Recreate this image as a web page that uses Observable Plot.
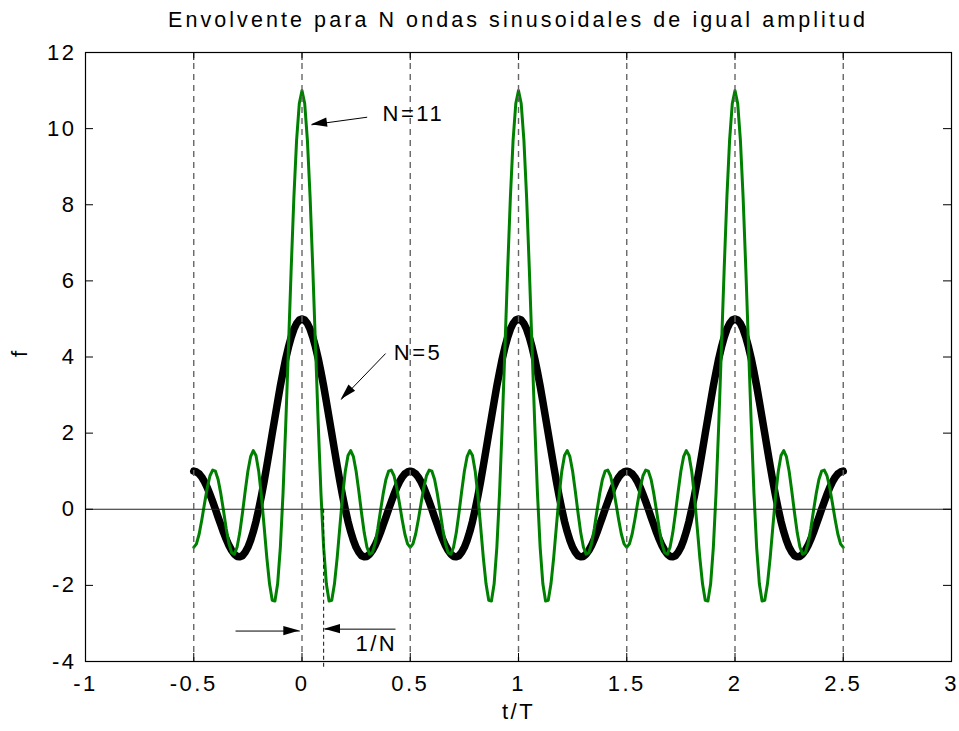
<!DOCTYPE html>
<html><head><meta charset="utf-8">
<script src="https://cdn.jsdelivr.net/npm/d3@7"></script>
<script src="https://cdn.jsdelivr.net/npm/@observablehq/plot@0.6"></script>
<style>
body{margin:0;background:#fff;}
#chart{position:relative;width:959px;height:731px;}
</style></head><body><div id="chart"></div>
<script>
// sampling grid of the curves (t/T)
const tStart = -0.5, tStep = 0.0125;
// N = 5 envelope values (t = -0.5 ... 2.5)
const f5 = [
 1,0.98,0.93,0.84,0.72,0.57,0.39,0.2,0,-0.21,-0.41,-0.61,-0.79,-0.95,-1.08,-1.18,-1.24,-1.25,-1.22,-1.13,-1,-0.82,-0.59,-0.32,0,0.35,0.73,1.14,1.56,1.99,2.41,2.83,3.24,3.61,3.96,4.26,4.52,4.73,4.88,4.97,5,
 4.97,4.88,4.73,4.52,4.26,3.96,3.61,3.24,2.83,2.41,1.99,1.56,1.14,0.73,0.35,0,-0.32,-0.59,-0.82,-1,-1.13,-1.22,-1.25,-1.24,-1.18,-1.08,-0.95,-0.79,-0.61,-0.41,-0.21,0,0.2,0.39,0.57,0.72,0.84,0.93,0.98,1,
 0.98,0.93,0.84,0.72,0.57,0.39,0.2,0,-0.21,-0.41,-0.61,-0.79,-0.95,-1.08,-1.18,-1.24,-1.25,-1.22,-1.13,-1,-0.82,-0.59,-0.32,0,0.35,0.73,1.14,1.56,1.99,2.41,2.83,3.24,3.61,3.96,4.26,4.52,4.73,4.88,4.97,5,
 4.97,4.88,4.73,4.52,4.26,3.96,3.61,3.24,2.83,2.41,1.99,1.56,1.14,0.73,0.35,0,-0.32,-0.59,-0.82,-1,-1.13,-1.22,-1.25,-1.24,-1.18,-1.08,-0.95,-0.79,-0.61,-0.41,-0.21,0,0.2,0.39,0.57,0.72,0.84,0.93,0.98,1,
 0.98,0.93,0.84,0.72,0.57,0.39,0.2,0,-0.21,-0.41,-0.61,-0.79,-0.95,-1.08,-1.18,-1.24,-1.25,-1.22,-1.13,-1,-0.82,-0.59,-0.32,0,0.35,0.73,1.14,1.56,1.99,2.41,2.83,3.24,3.61,3.96,4.26,4.52,4.73,4.88,4.97,5,
 4.97,4.88,4.73,4.52,4.26,3.96,3.61,3.24,2.83,2.41,1.99,1.56,1.14,0.73,0.35,0,-0.32,-0.59,-0.82,-1,-1.13,-1.22,-1.25,-1.24,-1.18,-1.08,-0.95,-0.79,-0.61,-0.41,-0.21,0,0.2,0.39,0.57,0.72,0.84,0.93,0.98,1
];
// N = 11 envelope values (t = -0.5 ... 2.5)
const f11 = [
 -1,-0.91,-0.65,-0.27,0.16,0.57,0.88,1.03,1,0.78,0.41,-0.04,-0.51,-0.9,-1.14,-1.18,-1,-0.62,-0.1,0.47,1,1.38,1.54,1.41,1,0.35,-0.45,-1.27,-1.96,-2.39,-2.41,-1.96,-1,0.43,2.24,4.26,6.31,8.19,9.69,10.66,11,
 10.66,9.69,8.19,6.31,4.26,2.24,0.43,-1,-1.96,-2.41,-2.39,-1.96,-1.27,-0.45,0.35,1,1.41,1.54,1.38,1,0.47,-0.1,-0.62,-1,-1.18,-1.14,-0.9,-0.51,-0.04,0.41,0.78,1,1.03,0.88,0.57,0.16,-0.27,-0.65,-0.91,-1,
 -0.91,-0.65,-0.27,0.16,0.57,0.88,1.03,1,0.78,0.41,-0.04,-0.51,-0.9,-1.14,-1.18,-1,-0.62,-0.1,0.47,1,1.38,1.54,1.41,1,0.35,-0.45,-1.27,-1.96,-2.39,-2.41,-1.96,-1,0.43,2.24,4.26,6.31,8.19,9.69,10.66,11,
 10.66,9.69,8.19,6.31,4.26,2.24,0.43,-1,-1.96,-2.41,-2.39,-1.96,-1.27,-0.45,0.35,1,1.41,1.54,1.38,1,0.47,-0.1,-0.62,-1,-1.18,-1.14,-0.9,-0.51,-0.04,0.41,0.78,1,1.03,0.88,0.57,0.16,-0.27,-0.65,-0.91,-1,
 -0.91,-0.65,-0.27,0.16,0.57,0.88,1.03,1,0.78,0.41,-0.04,-0.51,-0.9,-1.14,-1.18,-1,-0.62,-0.1,0.47,1,1.38,1.54,1.41,1,0.35,-0.45,-1.27,-1.96,-2.39,-2.41,-1.96,-1,0.43,2.24,4.26,6.31,8.19,9.69,10.66,11,
 10.66,9.69,8.19,6.31,4.26,2.24,0.43,-1,-1.96,-2.41,-2.39,-1.96,-1.27,-0.45,0.35,1,1.41,1.54,1.38,1,0.47,-0.1,-0.62,-1,-1.18,-1.14,-0.9,-0.51,-0.04,0.41,0.78,1,1.03,0.88,0.57,0.16,-0.27,-0.65,-0.91,-1
];
const xTicks = [-1,-0.5,0,0.5,1,1.5,2,2.5,3];
const yTicks = [-4,-2,0,2,4,6,8,10,12];
const dashedX = [-0.5,0,0.5,1,1.5,2,2.5];
const oneOverN = [0.1];
const labelText = ["N=11","N=5","1/N"];
const labelX = [0.372,0.424,0.247];
const labelY = [10.38,4.11,-3.53];
const arrowX1 = [0.301,0.386,-0.307,0.432];
const arrowY1 = [10.30,4.09,-3.20,-3.15];
const arrowX2 = [0.044,0.181,-0.010,0.104];
const arrowY2 = [10.10,2.88,-3.20,-3.15];
const titleText = "Envolvente para N ondas sinusoidales de igual amplitud";
const xLabel = "t/T", yLabel = "f";

const d5 = f5.map((f,i)=>({t: tStart + i*tStep, f}));
const d11 = f11.map((f,i)=>({t: tStart + i*tStep, f}));
const labels = labelText.map((s,i)=>({s, x: labelX[i], y: labelY[i]}));
const arrows = arrowX1.map((x1,i)=>({x1, y1: arrowY1[i], x2: arrowX2[i], y2: arrowY2[i]}));

const W = 959, H = 731, mL = 85, mR = 8, mT = 52, mB = 70;
const iw = W - mL - mR, ih = H - mT - mB, tk = 8;

const plot = Plot.plot({
  width: W, height: H, marginLeft: mL, marginRight: mR, marginTop: mT, marginBottom: mB,
  style: {fontFamily: "'Liberation Sans', Arial, sans-serif", fontSize: "22px", letterSpacing: "2.5px", background: "#fff", color: "black", overflow: "visible"},
  x: {domain: [-1, 3]},
  y: {domain: [-4, 12]},
  marks: [
    Plot.axisX(xTicks, {tickSize: 0, tickPadding: 14, tickFormat: d => String(d), label: null}),
    Plot.axisY(yTicks, {tickSize: 0, tickPadding: 9, tickFormat: d => String(d), label: null}),
    Plot.line(d5, {x: "t", y: "f", stroke: "black", strokeWidth: 7.5, strokeLinejoin: "round", strokeLinecap: "round"}),
    Plot.line(d11, {x: "t", y: "f", stroke: "#008000", strokeWidth: 3, strokeLinejoin: "round"}),
    Plot.ruleY([0], {stroke: "#222", strokeWidth: 1}),
    Plot.ruleX(dashedX, {x: d => d, stroke: "#666", strokeWidth: 1.4, strokeDasharray: "6,5"}),
    Plot.ruleX(oneOverN, {x: d => d, y1: 0, y2: -4.18, stroke: "#111", strokeWidth: 1, strokeDasharray: "4,3"}),
    Plot.tickX(xTicks, {x: d => d, insetTop: ih - tk, stroke: "black"}),
    Plot.tickX(xTicks, {x: d => d, insetBottom: ih - tk, stroke: "black"}),
    Plot.tickY(yTicks, {y: d => d, insetRight: iw - tk, stroke: "black"}),
    Plot.tickY(yTicks, {y: d => d, insetLeft: iw - tk, stroke: "black"}),
    Plot.frame({stroke: "black", strokeWidth: 1.2}),
    Plot.link(arrows, {x1: "x1", y1: "y1", x2: "x2", y2: "y2", stroke: "black", strokeWidth: 1}),
    Plot.text(labels, {x: "x", y: "y", text: "s", textAnchor: "start", fontSize: 22, fill: "black"}),
    Plot.text([xLabel], {text: d => d, frameAnchor: "bottom", dy: 57, fontSize: 22, fill: "black"}),
    Plot.text([yLabel], {text: d => d, frameAnchor: "left", dx: -66, rotate: -90, fontSize: 22, fill: "black"})
  ]
});

// filled arrow heads, positioned with Plot's own scales
const sx = plot.scale("x"), sy = plot.scale("y");
const svg = d3.select(plot);
arrows.forEach(a => {
  const px1 = sx.apply(a.x1), py1 = sy.apply(a.y1), px2 = sx.apply(a.x2), py2 = sy.apply(a.y2);
  const dx = px2 - px1, dy = py2 - py1, len = Math.hypot(dx, dy);
  const ux = dx / len, uy = dy / len, L = 16, w = 4.6;
  const bx = px2 - ux * L, by = py2 - uy * L;
  svg.append("polygon")
    .attr("points", [[px2, py2], [bx - uy * w, by + ux * w], [bx + uy * w, by - ux * w]].map(p => p.join(",")).join(" "))
    .attr("fill", "black");
});
// title
svg.append("text")
  .attr("x", 168).attr("y", 27)
  .attr("text-anchor", "start")
  .attr("textLength", 697).attr("lengthAdjust", "spacing")
  .attr("font-size", 21.5).attr("fill", "black").style("letter-spacing", "0px")
  .text(titleText);

document.getElementById("chart").appendChild(plot);
</script>
</body></html>
